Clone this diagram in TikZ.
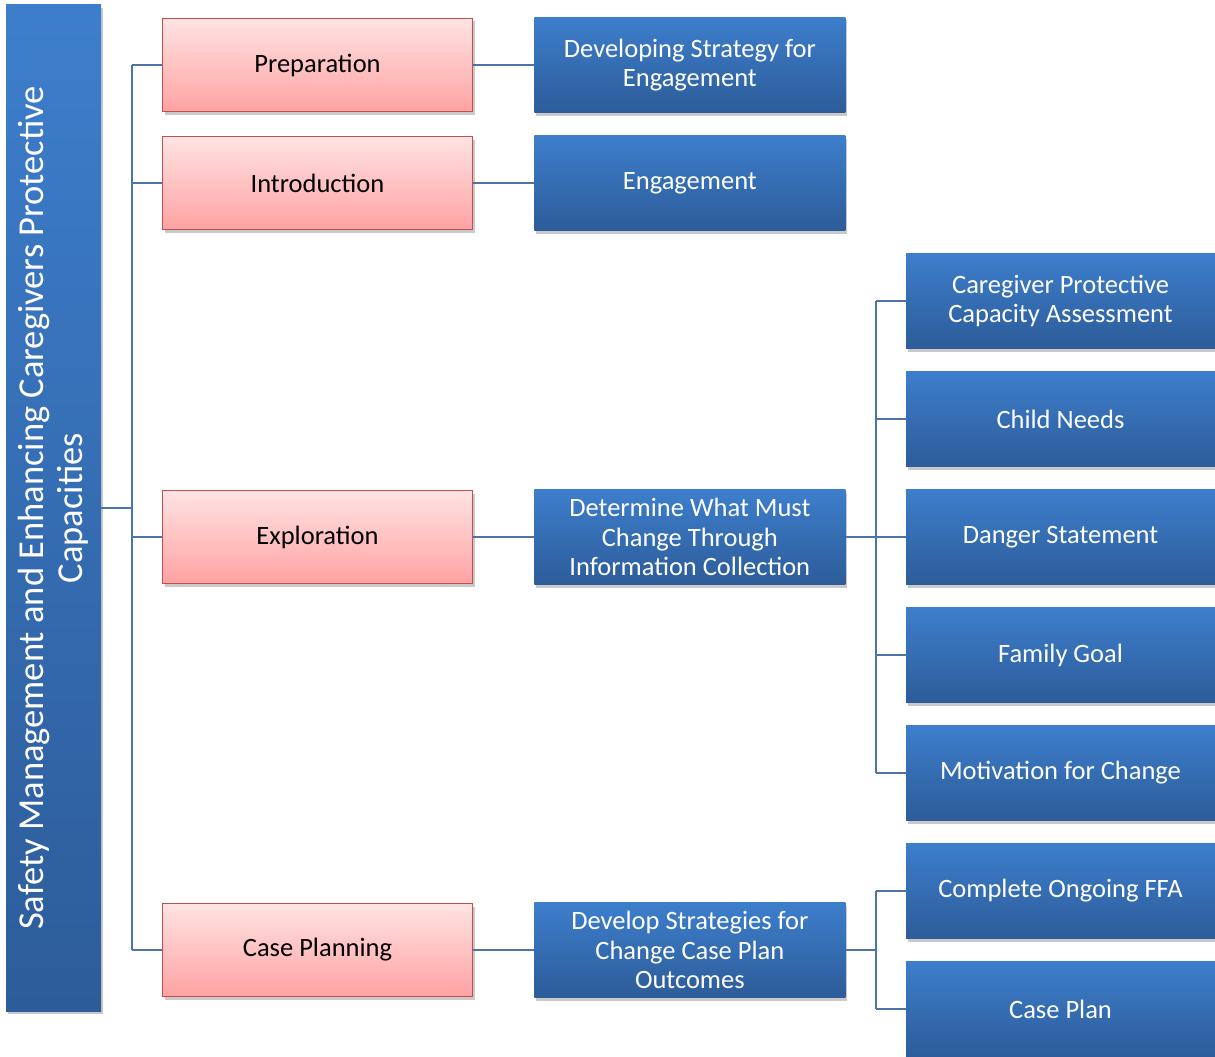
\documentclass[tikz,border=0pt]{standalone}
\usepackage{fontspec}
\setmainfont{Carlito}
\usetikzlibrary{positioning,shadows}

\definecolor{bluetop}{HTML}{3D7ECC}
\definecolor{bluebot}{HTML}{2D5C99}
\definecolor{redtop}{HTML}{FFE3E3}
\definecolor{redbot}{HTML}{FFA2A2}
\definecolor{redline}{HTML}{C0504D}
\definecolor{linkcol}{HTML}{4D74A8}

\begin{document}
\begin{tikzpicture}[x=1pt, y=-1pt,
    shade/.style={drop shadow={shadow xshift=2pt, shadow yshift=-3pt, opacity=0.3, fill=black!70}},
    phase/.style={shade, draw=redline, line width=1.3pt, top color=redtop, bottom color=redbot,
        minimum width=310pt, minimum height=93pt, inner sep=0pt, font=\fontsize{26.5}{29.5}\selectfont},
    task/.style={shade, top color=bluetop, bottom color=bluebot, text=white, align=center,
        minimum width=311pt, minimum height=95pt, inner sep=0pt, font=\fontsize{26.5}{29.5}\selectfont},
    subtask/.style={task, minimum width=309pt},
    link/.style={draw=linkcol, line width=1.8pt}
]
    \useasboundingbox (0,0) rectangle (1215,1057);

    % Root
    \node[shade, rotate=90, top color=bluetop, bottom color=bluebot, text=white, align=center,
        minimum width=1006pt, minimum height=95pt, inner sep=0pt,
        font=\fontsize{36.5}{39.5}\selectfont] (safety) at (53.5,508)
        {Safety Management and Enhancing Caregivers Protective\\Capacities};

    % Phases
    \node[phase] (prep)  at (317.5,65)  {Preparation};
    \node[phase] (intro) at (317.5,183) {Introduction};
    \node[phase] (explo) at (317.5,537) {Exploration};
    \node[phase] (plan)  at (317.5,950) {Case Planning};

    % Tasks
    \node[task, right=61pt of prep]  (strat)  {Developing Strategy for\\Engagement};
    \node[task, right=61pt of intro] (engage) {Engagement};
    \node[task, right=61pt of explo] (change) {Determine What Must\\Change Through\\Information Collection};
    \node[task, right=61pt of plan]  (outcome) {Develop Strategies for\\Change Case Plan\\Outcomes};

    % Sub tasks
    \node[subtask] (cpca)   at (1060.5,301)  {Caregiver Protective\\Capacity Assessment};
    \node[subtask] (needs)  at (1060.5,419)  {Child Needs};
    \node[subtask] (danger) at (1060.5,537)  {Danger Statement};
    \node[subtask] (goal)   at (1060.5,655)  {Family Goal};
    \node[subtask] (motiv)  at (1060.5,773)  {Motivation for Change};
    \node[subtask] (ffa)    at (1060.5,891)  {Complete Ongoing FFA};
    \node[subtask] (cplan)  at (1060.5,1009) {Case Plan};

    % Connectors
    \coordinate (trunk) at (132,508);
    \coordinate (fork)  at (876,537);
    \coordinate (fork2) at (876,950);

    \draw[link] (safety.south) -- (trunk);
    \draw[link] (trunk |- prep.west) -- (trunk |- plan.west);
    \foreach \n in {prep,intro,explo,plan}
        \draw[link] (trunk |- \n.west) -- (\n.west);

    \draw[link] (prep.east)  -- (strat.west);
    \draw[link] (intro.east) -- (engage.west);
    \draw[link] (explo.east) -- (change.west);
    \draw[link] (plan.east)  -- (outcome.west);

    \draw[link] (change.east) -- (fork);
    \draw[link] (fork |- cpca.west) -- (fork |- motiv.west);
    \foreach \n in {cpca,needs,danger,goal,motiv}
        \draw[link] (fork |- \n.west) -- (\n.west);

    \draw[link] (outcome.east) -- (fork2);
    \draw[link] (fork2 |- ffa.west) -- (fork2 |- cplan.west);
    \foreach \n in {ffa,cplan}
        \draw[link] (fork2 |- \n.west) -- (\n.west);
\end{tikzpicture}
\end{document}
